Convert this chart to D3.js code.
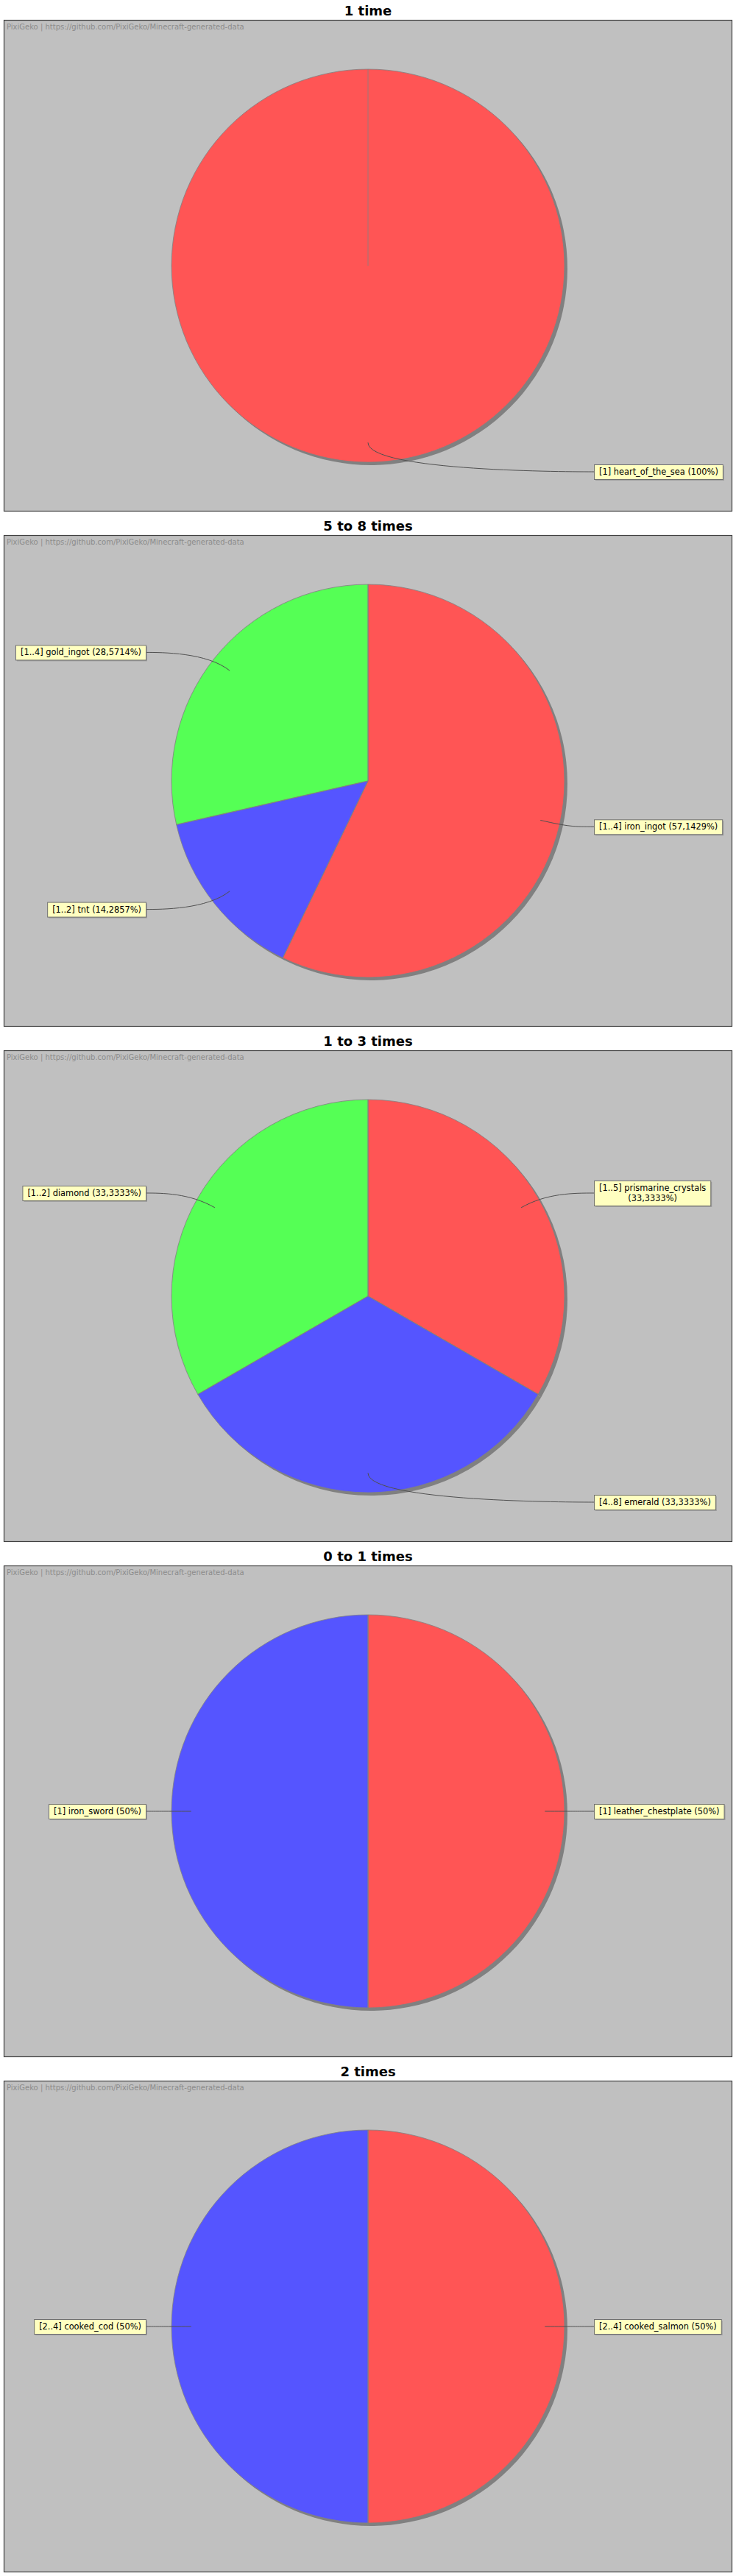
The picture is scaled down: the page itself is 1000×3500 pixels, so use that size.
<!DOCTYPE html>
<html>
<head>
<meta charset="utf-8">
<script src="https://cdn.jsdelivr.net/npm/d3@7"></script>
<style>
  html, body { margin: 0; padding: 0; background: #ffffff; }
  svg { display: block; }
</style>
</head>
<body>
<svg id="chart" width="1000" height="3500"></svg>
<script>
// ---------- data ----------
const titles = ["1 time", "5 to 8 times", "1 to 3 times", "0 to 1 times", "2 times"];

const items1 = ["heart_of_the_sea"];
const ranges1 = ["1"];
const values1 = [100];

const items2 = ["iron_ingot", "tnt", "gold_ingot"];
const ranges2 = ["1..4", "1..2", "1..4"];
const values2 = [57.1429, 14.2857, 28.5714];

const items3 = ["prismarine_crystals", "emerald", "diamond"];
const ranges3 = ["1..5", "4..8", "1..2"];
const values3 = [33.3333, 33.3333, 33.3333];

const items4 = ["leather_chestplate", "iron_sword"];
const ranges4 = ["1", "1"];
const values4 = [50, 50];

const items5 = ["cooked_salmon", "cooked_cod"];
const ranges5 = ["2..4", "2..4"];
const values5 = [50, 50];

const sliceColors = ["#FF5555", "#5555FF", "#55FF55"];
const watermark = "PixiGeko | https://github.com/PixiGeko/Minecraft-generated-data";

const charts = [
  {title: titles[0], items: items1, ranges: ranges1, values: values1},
  {title: titles[1], items: items2, ranges: ranges2, values: values2},
  {title: titles[2], items: items3, ranges: ranges3, values: values3},
  {title: titles[3], items: items4, ranges: ranges4, values: values4},
  {title: titles[4], items: items5, ranges: ranges5, values: values5}
];

// ---------- layout ----------
const W = 1000, panelH = 700;
const boxX = 5, boxY = 27, boxW = 990, boxH = 668;
const R = 267;
const linkR = R * 0.9;
const elbowR = 280;
const gapRight = 27, gapLeft = 22;
const labelFont = "11.4px 'DejaVu Sans'";
const maxLabelW = 200;
const lineH = 14;

const svg = d3.select("#chart");
const fmt = v => {
  let s = (+v.toFixed(4)).toString();
  return s.replace(".", ",");
};

const pie = d3.pie().sort(null).value(d => d.value).startAngle(0).endAngle(2 * Math.PI);
const arc = d3.arc().innerRadius(0).outerRadius(R);

// measuring
const measurer = svg.append("text").style("font", labelFont).attr("visibility", "hidden");
function textW(s) { measurer.text(s); return measurer.node().getComputedTextLength(); }
function wrap(s) {
  if (textW(s) <= maxLabelW) return [s];
  const words = s.split(" ");
  const lines = [];
  let cur = "";
  words.forEach(w => {
    const t = cur ? cur + " " + w : w;
    if (textW(t) <= maxLabelW || !cur) cur = t;
    else { lines.push(cur); cur = w; }
  });
  if (cur) lines.push(cur);
  return lines;
}

charts.forEach((c, k) => {
  const g = svg.append("g").attr("transform", `translate(0,${k * panelH})`);
  const cx = boxX + boxW / 2, cy = boxY + boxH / 2;

  // title
  g.append("text")
    .attr("x", W / 2).attr("y", 21)
    .attr("text-anchor", "middle")
    .style("font", "bold 18px 'DejaVu Sans'")
    .attr("fill", "#000")
    .text(c.title);

  // plot background + border
  g.append("rect")
    .attr("x", boxX + 0.5).attr("y", boxY + 0.5)
    .attr("width", boxW - 1).attr("height", boxH - 1)
    .attr("fill", "#C0C0C0")
    .attr("stroke", "#404040").attr("stroke-width", 1.2);

  // watermark
  g.append("text")
    .attr("x", 9).attr("y", 40)
    .style("font", "10px 'DejaVu Sans'")
    .attr("fill", "#8c8c8c")
    .text(watermark);

  const data = c.items.map((it, i) => ({item: it, range: c.ranges[i], value: c.values[i], color: sliceColors[i % sliceColors.length]}));
  const arcs = pie(data);

  // shadow
  g.append("g").attr("transform", `translate(${cx + 4},${cy + 4})`)
    .selectAll("path").data(arcs).join("path")
    .attr("d", arc).attr("fill", "#808080");

  const pg = g.append("g").attr("transform", `translate(${cx},${cy})`);
  pg.selectAll("path.slice").data(arcs).join("path")
    .attr("class", "slice")
    .attr("d", arc)
    .attr("fill", d => d.data.color)
    .attr("stroke", "#808080").attr("stroke-width", 0.8);

  // radial section boundaries
  pg.selectAll("line.sep").data(arcs).join("line")
    .attr("class", "sep")
    .attr("x1", 0).attr("y1", 0)
    .attr("x2", d => R * Math.sin(d.startAngle))
    .attr("y2", d => -R * Math.cos(d.startAngle))
    .attr("stroke", "#808080").attr("stroke-width", 0.8);

  // labels
  arcs.forEach(d => {
    const mid = (d.startAngle + d.endAngle) / 2;
    const right = Math.sin(mid) > -1e-6;
    const linkX = cx + linkR * Math.sin(mid), linkY = cy - linkR * Math.cos(mid);
    const elbowX = cx + elbowR * Math.sin(mid), elbowY = cy - elbowR * Math.cos(mid);
    const anchorX = right ? cx + elbowR : cx - elbowR;
    const targetX = right ? anchorX + gapRight : anchorX - gapLeft;
    const targetY = elbowY;

    const p = d3.path();
    p.moveTo(targetX, targetY);
    p.bezierCurveTo(anchorX, targetY, elbowX, elbowY, linkX, linkY);
    g.append("path").attr("d", p.toString())
      .attr("fill", "none").attr("stroke", "#505050").attr("stroke-width", 1);

    const label = `[${d.data.range}] ${d.data.item} (${fmt(d.data.value)}%)`;
    const lines = wrap(label);
    const tw = d3.max(lines, textW);
    const bw = tw + 13;
    const bh = lines.length * lineH + 6;
    const bx = right ? targetX : targetX - bw;
    const by = targetY - bh / 2;

    g.append("rect")
      .attr("x", bx + 2).attr("y", by + 2).attr("width", bw).attr("height", bh)
      .attr("fill", "rgba(120,120,120,0.45)");
    g.append("rect")
      .attr("x", bx + 0.5).attr("y", by + 0.5).attr("width", bw).attr("height", bh)
      .attr("fill", "#FFFFC0").attr("stroke", "#707070").attr("stroke-width", 1);
    const t = g.append("text")
      .attr("text-anchor", "middle")
      .style("font", labelFont).attr("fill", "#000");
    lines.forEach((ln, i) => {
      t.append("tspan")
        .attr("x", bx + 0.5 + bw / 2)
        .attr("y", by + 3 + lineH * i + 11)
        .text(ln);
    });
  });
});
measurer.remove();
</script>
</body>
</html>
